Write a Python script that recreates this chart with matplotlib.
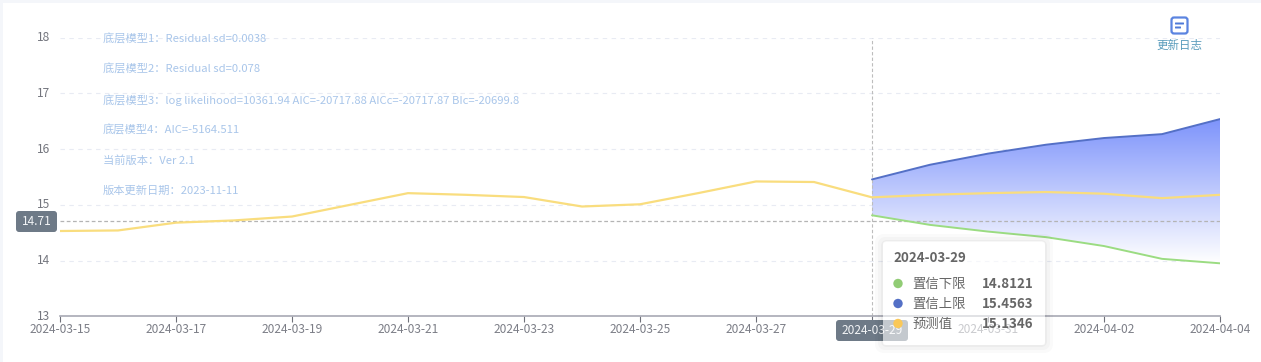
import matplotlib
matplotlib.use("Agg")
import matplotlib.pyplot as plt
import numpy as np
from matplotlib.colors import LinearSegmentedColormap
from matplotlib.patches import FancyBboxPatch, Rectangle
from matplotlib.transforms import ScaledTranslation

plt.rcParams["font.family"] = ["Noto Sans CJK SC", "DejaVu Sans"]

W, H = 1261, 362

dates = [f"2024-03-{d:02d}" for d in range(15, 32)] + [f"2024-04-{d:02d}" for d in range(1, 5)]
predicted = [14.53, 14.54, 14.68, 14.72, 14.79, 15.00, 15.21, 15.18, 15.14, 14.97, 15.01,
             15.21, 15.42, 15.41, 15.1346, 15.18, 15.21, 15.23, 15.20, 15.12, 15.18]
forecast_start = 14
upper = [15.4563, 15.72, 15.92, 16.08, 16.20, 16.27, 16.54]
lower = [14.8121, 14.64, 14.52, 14.42, 14.26, 14.03, 13.95]
y_ticks = [13, 14, 15, 16, 17, 18]
cross_value = 14.71

notes = [
    "底层模型1：Residual sd=0.0038",
    "底层模型2：Residual sd=0.078",
    "底层模型3：log likelihood=10361.94 AIC=-20717.88 AICc=-20717.87 BIc=-20699.8",
    "底层模型4：AIC=-5164.511",
    "当前版本：Ver 2.1",
    "版本更新日期：2023-11-11",
]
note_rows = [39, 69.5, 100, 130.5, 160.5, 190.5]

C_UPPER = "#5470c6"
C_LOWER = "#9bdc82"
C_PRED = "#f9dd7e"
C_TAG = "#6e7a87"


def fx(px):
    return px / W


def fy(py):
    return 1 - py / H


def fig_box(fig, x0, y0, x1, y1, color, z, alpha=1.0, rounding=3):
    # box given in pixels, origin top left
    p = FancyBboxPatch(
        (x0, H - y1), x1 - x0, y1 - y0,
        boxstyle=f"round,pad=0,rounding_size={rounding}",
        transform=None, facecolor=color, edgecolor="none", alpha=alpha, zorder=z,
        linewidth=0,
    )
    fig.add_artist(p)
    return p


fig = plt.figure(figsize=(W / 100, H / 100), dpi=100, facecolor="#f4f6fa")
fig.add_artist(Rectangle((fx(3), 0), 1, fy(3), transform=fig.transFigure,
                         facecolor="white", edgecolor="none", zorder=-1))

ax = fig.add_axes([fx(60), fy(316.2), fx(1220 - 60), (316.2 - 37.8) / H])
ax.patch.set_alpha(0)

xs = np.arange(len(dates))
fx_xs = xs[forecast_start:]

# gradient band between the bounds
band = ax.fill_between(fx_xs, lower, upper, facecolor="none", edgecolor="none")
grad = LinearSegmentedColormap.from_list("band", ["#ffffff", "#7d93fb"])
im = ax.imshow(np.linspace(1, 0, 256).reshape(-1, 1), cmap=grad, aspect="auto",
               extent=[fx_xs[0], fx_xs[-1], min(lower), max(upper)], zorder=1.5)
im.set_clip_path(band.get_paths()[0], transform=ax.transData)

ax.plot(fx_xs, upper, color=C_UPPER, lw=1.4, zorder=3, solid_capstyle="round")
ax.plot(fx_xs, lower, color=C_LOWER, lw=1.4, zorder=3, solid_capstyle="round")
ax.plot(xs, predicted, color=C_PRED, lw=1.6, zorder=3.2, solid_capstyle="round")

ax.set_xlim(0, len(dates) - 1)
ax.set_ylim(13, 18)
ax.set_yticks(y_ticks)
ax.set_xticks(xs[::2])
ax.set_xticklabels(dates[::2])
ax.tick_params(axis="y", length=0, labelsize=8.6, labelcolor="#74767e", pad=7)
ax.tick_params(axis="x", length=4, width=0.8, color="#6e7079", labelsize=8.6,
               labelcolor="#7c7e87", pad=1)
# y labels sit a little above their grid lines
for lab in ax.get_yticklabels():
    lab.set_transform(lab.get_transform() + ScaledTranslation(0, 1.5 / 100, fig.dpi_scale_trans))
ax.grid(axis="y", color="#e8ebf3", lw=0.8, ls=(0, (4, 4)))
ax.set_axisbelow(True)
for s in ("left", "right", "top"):
    ax.spines[s].set_visible(False)
ax.spines["bottom"].set_color("#a8a9b4")
ax.spines["bottom"].set_linewidth(1.2)

# crosshair
ax.axhline(cross_value, color="#b4b4b4", lw=0.9, ls=(0, (3, 2)), zorder=2.5)
ax.axvline(forecast_start, color="#bdbdbd", lw=0.8, ls=(0, (3, 2)), zorder=2.5)

# axis pointer tags
fig_box(fig, 16, 211, 57, 232, C_TAG, 4)
fig.text(fx(36.5), fy(221), f"{cross_value:.2f}", color="#f2f4f6", fontsize=8.6,
         ha="center", va="center", zorder=4.1)
fig_box(fig, 836, 320, 908, 341, C_TAG, 4)
fig.text(fx(872), fy(330), dates[forecast_start], color="#f2f4f6", fontsize=8.6,
         ha="center", va="center", zorder=4.1)

# model notes
for note, row in zip(notes, note_rows):
    fig.text(fx(103), fy(row), note, color="#a9c6ea", fontsize=8.1,
             ha="left", va="center", zorder=4)

# toolbox icon
fig_box(fig, 1171.5, 17.5, 1187.5, 33.5, "white", 4, rounding=2.5).set(
    edgecolor="#5b84e0", linewidth=1.6)
fig_box(fig, 1175, 22.5, 1184, 24.5, "#4f7ad8", 4.1, rounding=0.5)
fig_box(fig, 1175, 26.5, 1181, 28.5, "#4f7ad8", 4.1, rounding=0.5)
fig.text(fx(1179.5), fy(45.5), "更新日志", color="#5a9cbc", fontsize=8.3, ha="center",
         va="center", zorder=4)

# tooltip, shadow is only a ring outside the box so the see-through part stays white
for width, a in ((8, 0.02), (5, 0.025), (2, 0.03)):
    fig_box(fig, 883 - width / 2, 241 - width / 2 + 1, 1045 + width / 2, 344 + width / 2 + 1,
            "none", 4.5, alpha=a, rounding=5).set(edgecolor="#000000", linewidth=width * 0.72)
fig_box(fig, 883, 241, 1045, 344, "white", 5, alpha=0.6, rounding=4)
fig.text(fx(893), fy(258.5), dates[forecast_start], color="#666666", fontsize=9.6,
         fontweight="bold", ha="left", va="center", zorder=6)
rows = [("置信下限", lower[0], "#91cc75", 283.5),
        ("置信上限", upper[0], C_UPPER, 303.5),
        ("预测值", predicted[forecast_start], "#fac858", 323.5)]
for name, val, col, row in rows:
    fig.add_artist(plt.Circle((898, H - row), 4.7, transform=None, facecolor=col,
                              edgecolor="none", zorder=6))
    fig.text(fx(912.5), fy(row), name, color="#666666", fontsize=9.6, ha="left",
             va="center", zorder=6)
    fig.text(fx(1033.5), fy(row), f"{val:.4f}", color="#666666", fontsize=9.6,
             fontweight="bold", ha="right", va="center", zorder=6)

fig.savefig("out.png", dpi=100, facecolor=fig.get_facecolor())
